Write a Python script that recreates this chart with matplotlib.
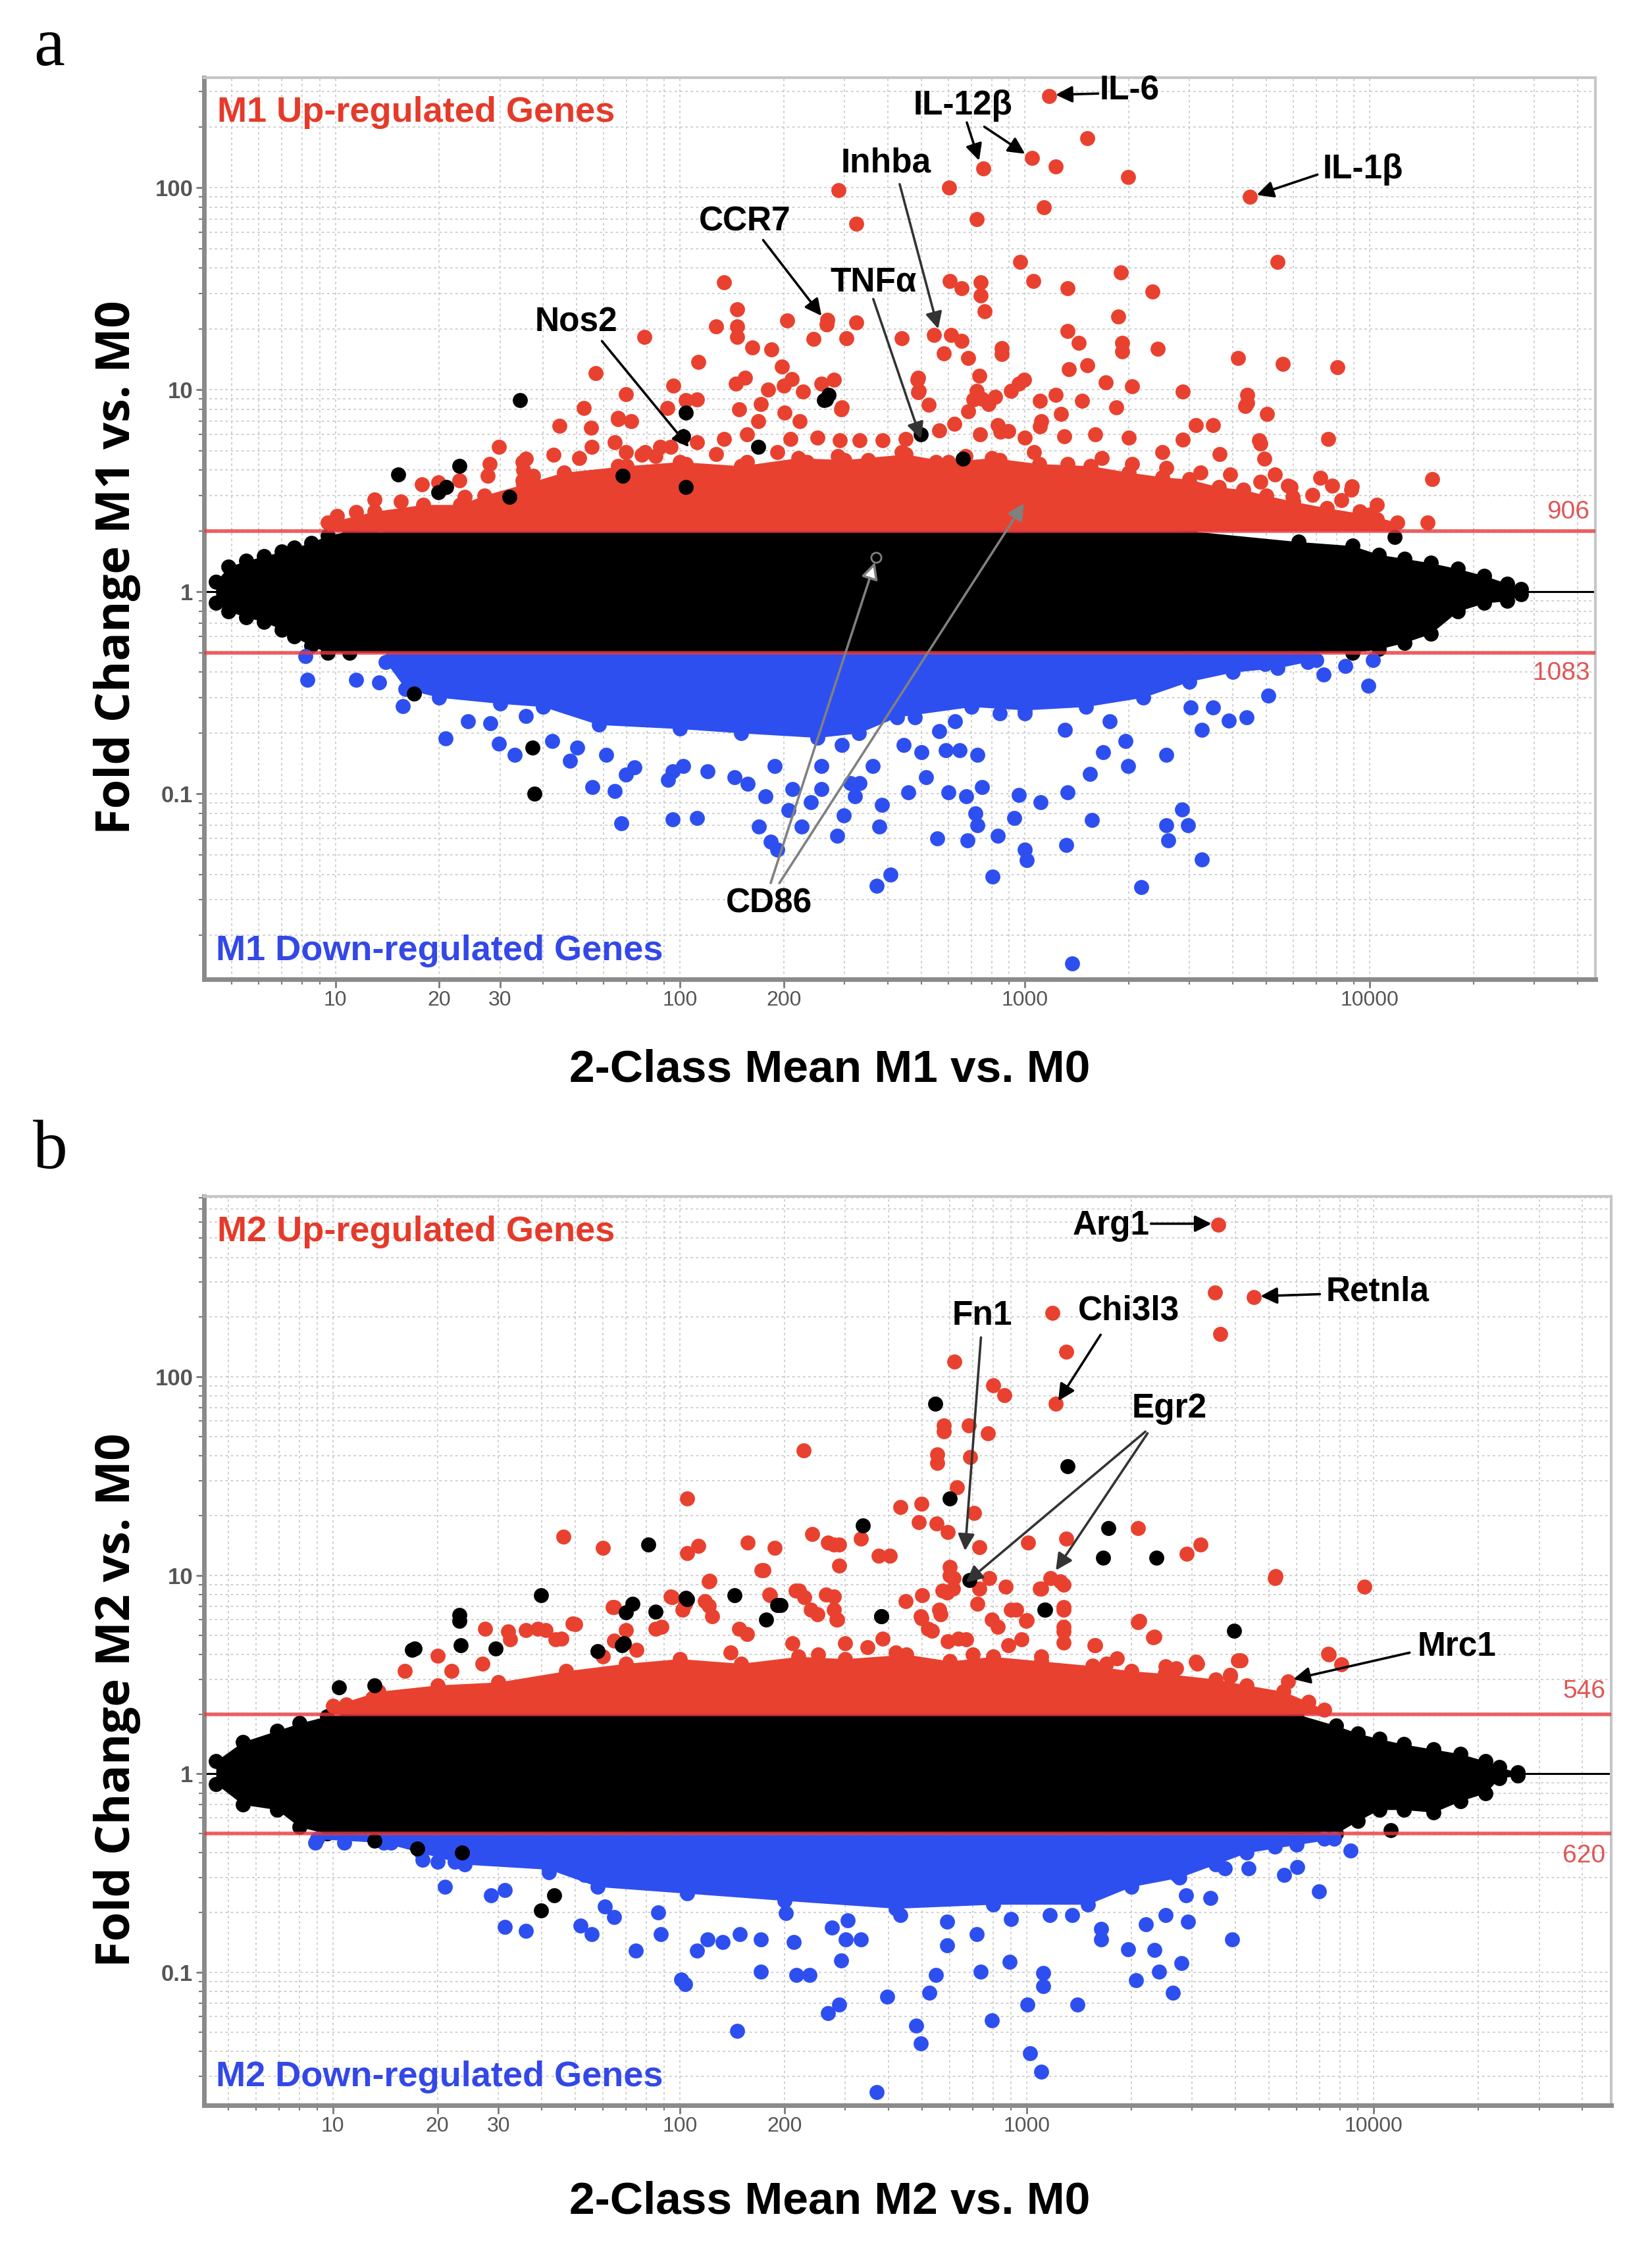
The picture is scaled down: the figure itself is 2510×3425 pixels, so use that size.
import numpy as np
import matplotlib
matplotlib.use("Agg")
import matplotlib.pyplot as plt
import matplotlib.transforms as mtransforms
from matplotlib.ticker import FixedLocator, FixedFormatter, LogLocator, NullFormatter

# ---------------- data ----------------
x_ticks = [10, 20, 30, 100, 200, 1000, 10000]
x_ticklabels = ['10', '20', '30', '100', '200', '1000', '10000']
y_ticks = [0.1, 1, 10, 100]
y_ticklabels = ['0.1', '1', '10', '100']

# panel a : dense black cloud (non significant genes)
a_cloud_x = [4.5, 4.9, 5.5, 6.2, 7.0, 7.6, 8.5, 9.5, 11, 3000, 6200, 8900, 10600, 12600, 15000, 18000, 21500, 25000, 27500]
a_cloud_hi = [1.12, 1.33, 1.42, 1.5, 1.58, 1.65, 1.75, 1.9, 2.0, 2.0, 1.77, 1.69, 1.53, 1.46, 1.39, 1.3, 1.2, 1.1, 1.03]
a_cloud_lo = [0.88, 0.8, 0.75, 0.71, 0.65, 0.6, 0.54, 0.5, 0.5, 0.5, 0.5, 0.5, 0.52, 0.56, 0.62, 0.8, 0.88, 0.9, 0.97]
# panel a : solid red / blue masses just outside the 2-fold lines
a_up_x = [9.5, 13, 18, 23, 27, 35, 46, 70, 100, 150, 220, 300, 450, 600, 800, 1100, 1550, 2000, 2500, 3000,
          3650, 4300, 5000, 6000, 7500, 10000, 12000]
a_up_top = [2.2, 2.5, 2.7, 2.7, 3.0, 3.4, 3.9, 4.2, 4.4, 4.2, 4.6, 4.5, 4.8, 4.4, 4.6, 4.3, 4.2, 3.9, 3.7, 3.6,
            3.3, 3.2, 3.0, 2.8, 2.6, 2.4, 2.2]
a_dn_x = [14, 16, 20, 30, 40, 58, 100, 150, 250, 330, 425, 700, 1000, 1500, 2200, 3000, 4000, 5400, 7000]
a_dn_bot = [0.45, 0.33, 0.3, 0.28, 0.27, 0.22, 0.21, 0.2, 0.19, 0.2, 0.24, 0.27, 0.26, 0.27, 0.3, 0.36, 0.4, 0.42, 0.46]

a_up_pts = [
    (1177, 284), (1517, 175), (1047, 140), (1227, 127), (757, 124), (1991, 113), (601, 100), (288, 97),
    (1132, 80), (4498, 90), (723, 70), (324, 66), (5408, 43), (969, 43), (1897, 38), (605, 34.4),
    (655, 31.7), (743, 34), (743, 29.2), (1058, 34.4), (1331, 31.7), (2344, 30.5), (762, 24.5),
    (1862, 23.1), (267, 22.2), (324, 21.5), (304, 18), (438, 18), (545, 18.6), (611, 18.6), (654, 17.5),
    (581, 15.1), (685, 14.4), (857, 16.1), (857, 15), (1331, 19.5), (1429, 17.1), (1911, 17), (1911, 15.5),
    (2427, 15.9), (4150, 14.4), (5600, 13.4), (8060, 12.9), (490, 11.5), (490, 9.7), (2865, 9.8),
    (4416, 9.4), (4416, 8.6), (5035, 7.6), (7570, 5.7), (15170, 3.6), (14700, 2.2), (10500, 2.28),
    (4775, 5.6), (4950, 4.56), (3126, 6.7), (3515, 6.7), (279, 11.2), (294, 8.2), (487, 11.2), (493, 9.9),
    (526, 8.4), (736, 11.7), (723, 9.9), (1340, 12.6), (1517, 13.2), (1271, 7.6), (1464, 8.8), (1717, 10.9),
    (1842, 8.2), (2047, 10.4), (3664, 4.79), (5310, 3.81), (5800, 3.36), (5970, 2.95), (6800, 3.02),
    (7180, 3.67), (7760, 3.36), (8870, 3.33), (8270, 2.85), (9350, 2.51), (7180, 2.2), (2865, 5.67),
    (910, 9.9), (993, 11.2), (1104, 8.8), (1227, 9.4), (685, 7.8), (749, 9.0), (818, 9.2), (1104, 6.56),
    (893, 6.25), (832, 6.7), (134, 34), (146, 24.9), (127, 20.5), (146, 20.5), (146, 18.2), (78.7, 18.2),
    (204, 22), (162, 16.2), (184, 15.8), (244, 17.8), (266, 21), (113, 13.7), (56.9, 12.1), (95.5, 10.5),
    (69.5, 9.5), (52.5, 8.1), (44.7, 6.65), (64.7, 5.5), (29.8, 5.2), (34.9, 4.4), (43, 4.75), (92, 8.1),
    (104, 8.9), (180, 10), (211, 11.3), (227, 9.8), (171, 8.5), (168, 7), (154, 11.5), (197, 13), (257, 10.7),
    (112, 5.5), (69.5, 4.9), (10.1, 2.37), (11.5, 2.49), (13, 2.87), (13.5, 2.15), (15.5, 2.8), (17.8, 3.4),
    (19.5, 2.3), (19.9, 3.48), (22.9, 3.56), (23.7, 2.94), (27.7, 3.74), (34.9, 3.56), (37.5, 3.74),
    (55.2, 6.5), (65.9, 7.15), (72, 6.98), (87.5, 5.2), (77.3, 4.75),
    # spiky zone above the solid red mass
    (66, 7.25), (112, 8.95), (148, 8.0), (201, 7.7), (293, 8.0), (222, 7.0), (708, 8.95), (783, 8.5),
    (1114, 7.0), (4355, 8.3), (624, 6.8), (850, 6.2), (35.7, 4.56), (55.4, 5.2), (79, 4.9), (94, 5.2),
    (134, 5.7), (156, 6.0), (209, 5.7), (250, 5.8), (290, 5.6), (331, 5.6), (386, 5.6), (450, 5.7),
    (565, 6.3), (741, 6.0), (1000, 5.8), (1297, 5.9), (1600, 6.0), (2000, 5.8), (4820, 5.4), (2500, 4.9),
    (145, 10.7), (959, 10.7), (200, 10.5), (28, 4.3), (35, 4.0), (51, 4.6), (66, 4.2), (85, 4.7),
    (104, 4.3), (127, 4.8), (156, 4.4), (191, 4.9), (233, 4.4), (286, 4.7), (350, 4.5), (439, 4.9),
    (551, 4.4), (673, 4.7), (845, 4.5), (1061, 4.9), (1331, 4.3), (1671, 4.6), (2044, 4.3), (2565, 4.1),
    (3221, 3.9), (3939, 3.8), (4820, 3.5), (5900, 3.3), (8830, 3.2), (10500, 2.7),
]
a_dn_pts = [
    (8.2, 0.48), (8.3, 0.366), (11.5, 0.366), (13.4, 0.355), (15.7, 0.271), (20.9, 0.188), (24.2, 0.228),
    (28.1, 0.223), (29.8, 0.177), (33.1, 0.156), (35.7, 0.243), (42.6, 0.182), (48, 0.146), (50.2, 0.17),
    (55.7, 0.108), (60.9, 0.156), (64.6, 0.103), (67.5, 0.0716), (69.5, 0.125), (73.8, 0.135), (92.3, 0.117),
    (95, 0.075), (112, 0.076), (95, 0.129), (102, 0.137), (120, 0.129), (144, 0.121), (157, 0.112),
    (177, 0.097), (169, 0.069), (183, 0.058), (191, 0.053), (206, 0.083), (225, 0.069), (212, 0.106),
    (239, 0.091), (257, 0.106), (285, 0.062), (298, 0.078), (321, 0.097), (331, 0.113), (312, 0.113),
    (372, 0.035), (407, 0.040), (384, 0.088), (378, 0.069), (294, 0.174), (361, 0.137), (188, 0.137),
    (257, 0.137), (458, 0.102), (444, 0.174), (501, 0.161), (516, 0.121), (556, 0.060), (590, 0.165),
    (646, 0.165), (728, 0.156), (600, 0.102), (676, 0.097), (718, 0.080), (728, 0.070), (750, 0.108),
    (682, 0.059), (804, 0.039), (834, 0.062), (931, 0.076), (960, 0.099), (997, 0.053), (1013, 0.047),
    (1109, 0.091), (1327, 0.102), (1319, 0.056), (1368, 0.0145), (1565, 0.074), (1542, 0.126),
    (1687, 0.161), (1990, 0.137), (2178, 0.0346), (2567, 0.070), (2606, 0.059), (2851, 0.084),
    (2965, 0.070), (3262, 0.0475), (2567, 0.156), (3262, 0.207), (3025, 0.267), (3516, 0.267), (3900, 0.23),
    (4400, 0.24), (5080, 0.307), (7330, 0.39), (9890, 0.344), (1762, 0.228), (1960, 0.182), (1307, 0.208),
    (998, 0.25), (846, 0.25), (627, 0.228), (479, 0.24), (565, 0.204), (8500, 0.43), (10200, 0.46),
    (4960, 0.44), (6600, 0.45),
]
a_ns_pts = [
    (34.3, 8.9), (22.9, 4.2), (15.2, 3.8), (19.9, 3.1), (21, 3.3), (104, 7.7), (168, 5.2), (261, 8.9),
    (32, 2.95), (104, 3.3), (269, 9.4), (661, 4.56), (68, 3.74), (11800, 1.86), (16.9, 0.313),
    (37.3, 0.17), (37.8, 0.1), (102, 5.9), (265, 8.95), (498, 6.0),
]
a_counts = ('906', '1083')

# panel b
b_cloud_x = [4.6, 5.5, 6.9, 8.0, 9.6, 11, 6000, 7800, 9000, 10400, 12200, 14900, 17800, 21000, 23000, 26000]
b_cloud_hi = [1.16, 1.45, 1.65, 1.8, 1.95, 2.0, 2.0, 1.75, 1.6, 1.5, 1.41, 1.33, 1.26, 1.16, 1.08, 1.02]
b_cloud_lo = [0.89, 0.70, 0.66, 0.54, 0.5, 0.5, 0.5, 0.5, 0.58, 0.66, 0.66, 0.64, 0.73, 0.8, 0.95, 0.98]
b_up_x = [10, 13.5, 20, 30, 47, 70, 100, 150, 220, 300, 450, 600, 800, 1100, 1550, 2000, 2500, 3500, 4300,
          5500, 6500, 7200]
b_up_top = [2.2, 2.6, 2.8, 2.9, 3.3, 3.6, 3.8, 3.6, 3.9, 3.8, 4.0, 3.7, 3.9, 3.7, 3.5, 3.3, 3.2, 3.0, 2.8,
            2.6, 2.3, 2.1]
b_dn_x = [9, 14, 18, 24, 42, 58, 105, 200, 420, 800, 1500, 2000, 2750, 3500, 4300, 6000, 7700]
b_dn_bot = [0.47, 0.45, 0.4, 0.35, 0.33, 0.27, 0.25, 0.23, 0.21, 0.22, 0.22, 0.27, 0.3, 0.35, 0.4, 0.44, 0.47]

b_up_pts = [
    (3570, 585), (3490, 267), (4510, 252), (3620, 165), (1184, 210), (1301, 134), (1213, 73), (618, 119),
    (802, 90.8), (861, 81), (577, 57), (577, 53), (680, 57), (774, 52), (551, 40.6), (551, 36.9),
    (687, 39.6), (629, 27.8), (432, 22.1), (497, 22.9), (705, 20.6), (489, 18.6), (550, 18.2), (591, 16.5),
    (278, 14.3), (288, 14.3), (332, 15.3), (375, 12.6), (403, 12.6), (288, 11.2), (730, 13.9), (1011, 14.6),
    (1301, 15.3), (2088, 17.3), (2890, 12.8), (3175, 14.3), (5190, 9.7), (9420, 8.8), (600, 11), (600, 10),
    (615, 9.7), (278, 7.8), (278, 6.7), (283, 6.0), (447, 7.4), (500, 7.95), (781, 9.7), (1092, 8.55),
    (1170, 9.7), (1279, 9.0), (2088, 5.8), (2317, 4.89), (3103, 3.6), (4132, 3.74), (3855, 3.16),
    (7380, 4.03), (8055, 3.57), (5660, 2.93), (1578, 4.43), (571, 8.36), (612, 8.55), (729, 8.55),
    (869, 8.77), (497, 6.08), (533, 5.26), (565, 6.38), (591, 4.66), (668, 4.77), (825, 5.52), (933, 6.71),
    (1000, 5.94), (885, 4.43), (966, 4.77), (1279, 6.71), (1279, 5.5), (1279, 4.6), (2513, 3.48),
    (4593, 2.41), (10.9, 2.24), (13, 2.42), (16.1, 3.31), (20, 3.93), (27.5, 5.4), (32.4, 4.77),
    (46.1, 15.7), (60.1, 13.8), (105, 24.4), (105, 12.9), (113, 14.1), (157, 14.6), (188, 13.8),
    (227, 42.7), (241, 16.1), (267, 14.6), (174, 10.6), (122, 9.4), (64, 6.9), (50, 5.66), (39, 5.4),
    (221, 8.36), (43.8, 4.77), (94.8, 7.76), (103.6, 7.2), (121, 7.04), (182, 7.94), (228, 7.76),
    (249, 6.38), (88.5, 5.52),
    # spiky zone above the solid red mass
    (32, 5.2), (36, 5.3), (41, 5.3), (49, 5.7), (45.6, 4.8), (64.7, 6.9), (69.8, 5.3), (64.7, 4.68),
    (85, 5.4), (94, 7.8), (102, 6.7), (121, 9.3), (118, 7.4), (124, 6.2), (148, 5.4), (156, 5.05),
    (172, 10.6), (181, 8.0), (216, 8.4), (239, 6.7), (264, 8.0), (284, 6.0), (211, 4.56), (299, 4.56),
    (348, 4.33), (385, 4.8), (494, 6.2), (560, 6.7), (589, 8.2), (519, 5.4), (635, 4.8), (720, 7.2),
    (795, 6.0), (901, 6.7), (997, 5.9), (1103, 8.6), (1250, 9.3), (1280, 6.9), (1280, 5.2), (1567, 4.45),
    (1820, 3.82), (2113, 5.9), (2337, 4.92), (3080, 3.67), (4060, 3.72), (3865, 3.1), (5220, 9.9),
    (7420, 4.0), (22, 3.3), (27, 3.6), (60, 3.9), (75, 4.2), (140, 4.1), (250, 4.0), (420, 4.1),
    (700, 4.0), (1100, 3.9), (1700, 3.6), (2700, 3.4),
]
b_dn_pts = [
    (8.9, 0.45), (10.8, 0.45), (14.7, 0.45), (18.1, 0.37), (20, 0.36), (22.5, 0.36), (21, 0.27),
    (28.6, 0.245), (31.3, 0.26), (31.3, 0.169), (36, 0.162), (42, 0.32), (53, 0.31), (51.7, 0.172),
    (55.6, 0.156), (60.8, 0.215), (64.5, 0.19), (74.8, 0.129), (86.7, 0.2), (88, 0.156), (100.7, 0.092),
    (103.6, 0.087), (112, 0.129), (120, 0.146), (133, 0.142), (149, 0.156), (146, 0.0507), (171, 0.146),
    (171, 0.101), (213, 0.142), (217, 0.097), (237, 0.097), (267, 0.0624), (288, 0.0687), (275, 0.168),
    (305, 0.183), (301, 0.146), (333, 0.146), (292, 0.115), (370, 0.025), (396, 0.0757), (202, 0.199),
    (433, 0.195), (525, 0.079), (548, 0.097), (480, 0.054), (494, 0.0439), (590, 0.137), (590, 0.18),
    (716, 0.156), (738, 0.101), (794, 0.0575), (893, 0.113), (899, 0.186), (1006, 0.069), (1116, 0.0995),
    (1116, 0.085), (1021, 0.039), (1099, 0.0315), (1166, 0.194), (1352, 0.194), (1402, 0.069),
    (1640, 0.166), (1640, 0.146), (1960, 0.131), (2066, 0.091), (2203, 0.174), (2338, 0.13), (2407, 0.101),
    (2518, 0.194), (2633, 0.079), (2792, 0.111), (2920, 0.18), (2877, 0.245), (3388, 0.237), (3900, 0.146),
    (3723, 0.333), (4357, 0.333), (5200, 0.43), (5520, 0.31), (6030, 0.34), (6950, 0.255), (7200, 0.47),
    (8590, 0.41), (2712, 0.31),
]
b_ns_pts = [
    (10.4, 2.73), (13.2, 2.79), (16.9, 4.23), (23.2, 5.9), (23.2, 6.3), (23.4, 4.44), (29.5, 4.28),
    (39.8, 7.95), (81, 14.3), (105, 7.6), (144, 7.95), (191, 7.1), (177, 6.0), (73, 7.2), (70, 6.5),
    (85, 6.55), (58, 4.16), (69, 4.54), (546, 73), (1310, 35.5), (601, 24.4), (337, 17.9), (1721, 17.3),
    (1663, 12.3), (2360, 12.3), (1123, 6.7), (381, 6.2), (3963, 5.26), (13.2, 0.46), (17.5, 0.42),
    (23.6, 0.40), (39.8, 0.205), (43.5, 0.245), (11200, 0.52), (17.2, 4.28), (104, 7.7), (195, 7.1),
    (380, 6.2), (684, 9.5), (1130, 6.7), (68, 4.45),
]
b_counts = ('546', '620')

# gene labels: (text, text position, [(arrow start, arrow tip, colour)])
a_genes = [
    ('Nos2', (50, 21.5), [((59.3, 17.4), (106, 5.2), 'black')]),
    ('CCR7', (154, 68), [((174, 55), (257, 23.2), 'black')]),
    ('TNFα', (363, 34), [((363, 28.1), (499, 5.7), '#333333')]),
    ('Inhba', (396, 132), [((433, 104), (560, 20), '#333333')]),
    ('IL-12β', (661, 255), [((678, 210), (736, 136), 'black'), ((762, 200), (1000, 147), 'black')]),
    ('IL-6', (2014, 302), [((1630, 292), (1227, 288), 'black')]),
    ('IL-1β', (9530, 123), [((7050, 116), (4700, 92), 'black')]),
    ('CD86', (181, 0.0286), [((194, 0.0362), (993, 2.74), '#808080')]),
]
a_cd86_open = ((183, 0.0362), (367, 1.40), (369, 1.48))
b_genes = [
    ('Arg1', (1754, 577), [((2280, 591), (3410, 591), 'black')]),
    ('Retnla', (10280, 268), [((7000, 261), (4720, 255), 'black')]),
    ('Fn1', (743, 203), [((738, 158), (664, 13.3), '#333333')]),
    ('Chi3l3', (1968, 215), [((1633, 163), (1233, 75.7), 'black')]),
    ('Egr2', (2578, 69), [((2198, 53), (668, 9.2), '#333333'), ((2230, 52), (1213, 10.6), '#333333')]),
    ('Mrc1', (17400, 4.37), [((12700, 4.08), (5870, 3.0), 'black')]),
]

RED = '#e9412f'
BLUE = '#2d4ff0'
LINE_RED = '#e83a3f'
DOT = 270

SANS = ['Liberation Sans', 'DejaVu Sans']


def draw_panel(ax, xlim, ylim, cx, clo, chi, ux, utop, dx, dbot, up_pts, dn_pts, ns_pts,
               counts, count_y, cell, genes):
    ax.set_xscale('log')
    ax.set_yscale('log')
    ax.set_xlim(xlim)
    ax.set_ylim(ylim)
    ax.set_axisbelow(True)

    ax.xaxis.set_major_locator(FixedLocator(x_ticks))
    ax.xaxis.set_major_formatter(FixedFormatter(x_ticklabels))
    ax.xaxis.set_minor_locator(LogLocator(base=10, subs=np.arange(2, 10), numticks=20))
    ax.xaxis.set_minor_formatter(NullFormatter())
    ax.yaxis.set_major_locator(FixedLocator(y_ticks))
    ax.yaxis.set_major_formatter(FixedFormatter(y_ticklabels))
    ax.yaxis.set_minor_locator(LogLocator(base=10, subs=np.arange(2, 10), numticks=20))
    ax.yaxis.set_minor_formatter(NullFormatter())
    ax.grid(True, which='both', color='#cccccc', lw=1.3, ls=(0, (2, 2.5)))

    ax.tick_params(which='major', length=9, width=2, color='#7a7a7a', pad=3, labelcolor='#555555')
    ax.tick_params(which='minor', length=6, width=1.5, color='#7a7a7a')
    for lab in ax.get_xticklabels():
        lab.set_family(SANS)
        lab.set_fontsize(23)
    for lab in ax.get_yticklabels():
        lab.set_family(SANS)
        lab.set_fontsize(25)
        lab.set_fontweight('bold')

    for side in ('left', 'bottom'):
        ax.spines[side].set_color('#8a8a8a')
        ax.spines[side].set_linewidth(5)
    for side in ('top', 'right'):
        ax.spines[side].set_color('#c6c6c6')
        ax.spines[side].set_linewidth(3)

    ax.axhline(1, color='black', lw=2.2, zorder=1.5)

    # dense masses
    ax.fill_between(cx, clo, chi, color='black', lw=0, zorder=2)
    ax.scatter(cx + cx, clo + chi, s=DOT, color='black', lw=0, zorder=2)
    ax.fill_between(ux, [2] * len(ux), utop, color=RED, lw=0, zorder=2)
    ax.scatter(ux, utop, s=DOT, color=RED, lw=0, zorder=2)
    ax.fill_between(dx, dbot, [0.5] * len(dx), color=BLUE, lw=0, zorder=2)
    ax.scatter(dx, dbot, s=DOT, color=BLUE, lw=0, zorder=2)

    # individual genes
    for pts, col in ((up_pts, RED), (dn_pts, BLUE), (ns_pts, 'black')):
        arr = np.array(pts)
        ax.scatter(arr[:, 0], arr[:, 1], s=DOT, color=col, lw=0, zorder=3)

    # fold-change thresholds
    ax.axhline(2, color=LINE_RED, lw=4, alpha=0.8, zorder=4)
    ax.axhline(0.5, color=LINE_RED, lw=4, alpha=0.8, zorder=4)
    trans = mtransforms.blended_transform_factory(ax.transAxes, ax.transData)
    ax.text(0.996, count_y[0], counts[0], transform=trans, ha='right', va='center',
            color='#e05555', fontsize=28, family=SANS)
    ax.text(0.996, count_y[1], counts[1], transform=trans, ha='right', va='center',
            color='#e05555', fontsize=28, family=SANS)

    ax.text(0.0095, 0.951, cell + ' Up-regulated Genes', transform=ax.transAxes, ha='left',
            va='baseline', color='#e53a2a', fontsize=39, fontweight='bold', family=SANS)
    ax.text(0.0085, 0.021, cell + ' Down-regulated Genes', transform=ax.transAxes, ha='left',
            va='baseline', color='#3348e6', fontsize=39, fontweight='bold', family=SANS)

    for name, pos, arrows in genes:
        ax.text(pos[0], pos[1], name, ha='center', va='center', fontsize=37,
                fontweight='bold', family=SANS, zorder=6)
        for start, tip, col in arrows:
            ax.annotate('', xy=tip, xytext=start,
                        arrowprops=dict(arrowstyle='-|>', color=col, lw=2.6,
                                        mutation_scale=38, shrinkA=0, shrinkB=0),
                        zorder=5)


fig = plt.figure(figsize=(25.1, 34.25), dpi=100)
W, H = 2510.0, 3425.0
ax_a = fig.add_axes([310 / W, 1 - 1488 / H, 2114 / W, 1370 / H])
ax_b = fig.add_axes([310 / W, 1 - 3199 / H, 2138 / W, 1381 / H])

draw_panel(ax_a, (4.16, 45100), (0.0121, 350), a_cloud_x, a_cloud_lo, a_cloud_hi,
           a_up_x, a_up_top, a_dn_x, a_dn_bot, a_up_pts, a_dn_pts, a_ns_pts,
           a_counts, (2.48, 0.396), 'M1', a_genes)
draw_panel(ax_b, (4.25, 48400), (0.0214, 811), b_cloud_x, b_cloud_lo, b_cloud_hi,
           b_up_x, b_up_top, b_dn_x, b_dn_bot, b_up_pts, b_dn_pts, b_ns_pts,
           b_counts, (2.6, 0.387), 'M2', b_genes)

# CD86 second arrow with open head and open circle
start, tip, circ = a_cd86_open
ax_a.annotate('', xy=tip, xytext=start,
              arrowprops=dict(arrowstyle='-|>', fc='white', ec='#808080', lw=2.6,
                              mutation_scale=38, shrinkA=0, shrinkB=0), zorder=5)
ax_a.plot([circ[0]], [circ[1]], 'o', mfc='none', mec='#808080', ms=11, mew=2, zorder=5)

# axis titles and panel letters
fig.text(1261 / W, 1 - 1626 / H, '2-Class Mean M1 vs. M0', ha='center', va='center',
         fontsize=50, fontweight='bold', family=SANS)
fig.text(1261 / W, 1 - 3346 / H, '2-Class Mean M2 vs. M0', ha='center', va='center',
         fontsize=50, fontweight='bold', family=SANS)
fig.text(178 / W, 1 - 862 / H, 'Fold Change M1 vs. M0', rotation=90, ha='center', va='center',
         fontsize=52, fontweight='bold', family=['Open Sans', 'DejaVu Sans'])
fig.text(178 / W, 1 - 2583 / H, 'Fold Change M2 vs. M0', rotation=90, ha='center', va='center',
         fontsize=52, fontweight='bold', family=['Open Sans', 'DejaVu Sans'])
fig.text(75 / W, 1 - 99 / H, 'a', ha='center', va='baseline', fontsize=76,
         family=['Liberation Serif', 'DejaVu Serif'])
fig.text(76 / W, 1 - 1775 / H, 'b', ha='center', va='baseline', fontsize=76,
         family=['Liberation Serif', 'DejaVu Serif'])

fig.savefig('out.png', dpi=100, facecolor='white')
